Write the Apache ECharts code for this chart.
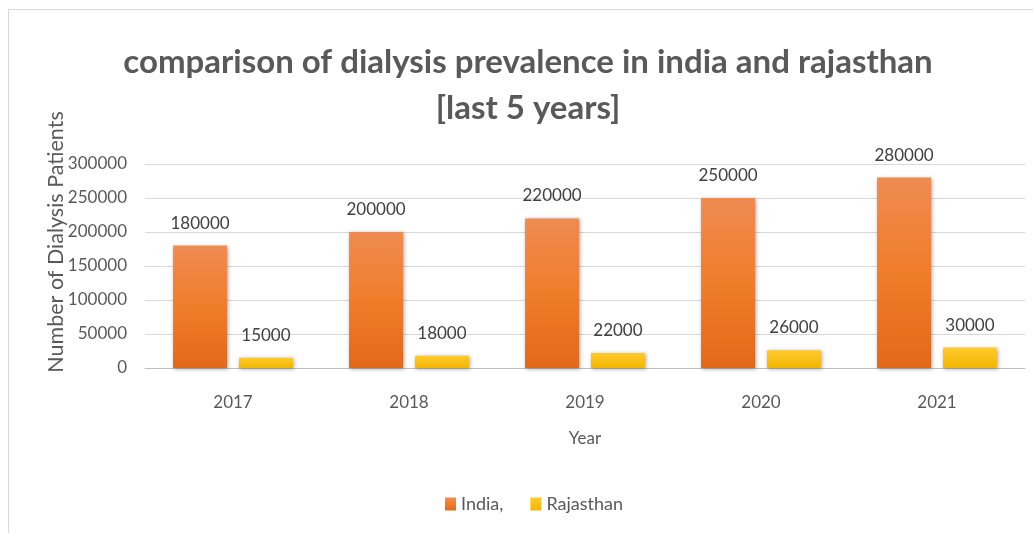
<!DOCTYPE html>
<html>
<head>
<meta charset="utf-8">
<script src="https://cdn.jsdelivr.net/npm/echarts@6/dist/echarts.min.js"></script>
<style>
html,body{margin:0;padding:0;background:#fff;overflow:hidden;}
#frame{position:absolute;left:8px;top:9px;width:1100px;height:600px;border-left:1px solid #d9d9d9;border-top:1px solid #d9d9d9;}
#chart{position:absolute;left:0;top:0;width:1033px;height:533px;}
</style>
</head>
<body>
<div id="frame"></div>
<div id="chart"></div>
<script>
const years = ['2017', '2018', '2019', '2020', '2021'];
const india = [180000, 200000, 220000, 250000, 280000];
const rajasthan = [15000, 18000, 22000, 26000, 30000];
const yTicks = [0, 50000, 100000, 150000, 200000, 250000, 300000];

const FONT = 'Lato';
const chart = echarts.init(document.getElementById('chart'), null, {renderer: 'canvas'});
const labelStyle = {show: true, position: 'top', distance: 14, color: '#404040', fontFamily: FONT, fontSize: 17};
chart.setOption({
  animation: false,
  title: {
    text: 'comparison of dialysis prevalence in india and rajasthan\n[last 5 years]',
    left: 523, top: 34,
    textAlign: 'center',
    textStyle: {fontFamily: FONT, fontWeight: 'bold', fontSize: 33, color: '#595959', lineHeight: 46}
  },
  legend: {
    bottom: 15, left: 440,
    itemWidth: 11, itemHeight: 13, itemGap: 27, icon: 'rect',
    textStyle: {fontFamily: FONT, fontSize: 18, color: '#595959'},
    data: ['India,', 'Rajasthan']
  },
  grid: {left: 145, right: 8, top: 164, bottom: 165, containLabel: false},
  xAxis: {
    type: 'category', data: years,
    name: 'Year', nameLocation: 'middle', nameGap: 62,
    nameTextStyle: {fontFamily: FONT, fontSize: 17, color: '#595959'},
    axisLine: {lineStyle: {color: '#bfbfbf', width: 1}},
    axisTick: {show: false},
    axisLabel: {margin: 26, fontFamily: FONT, fontSize: 17, color: '#595959'}
  },
  yAxis: {
    type: 'value', min: yTicks[0], max: yTicks[yTicks.length - 1], interval: 50000,
    name: 'Number of Dialysis Patients', nameLocation: 'middle', nameGap: 78,
    nameMoveOverlap: false,
    nameTextStyle: {fontFamily: FONT, fontSize: 21.5, color: '#595959', padding: [0, 0, 0, 48]},
    axisLine: {show: false}, axisTick: {show: false},
    axisLabel: {margin: 18, fontFamily: FONT, fontSize: 17, color: '#595959', formatter: v => String(v)},
    splitLine: {lineStyle: {color: '#d9d9d9', width: 1}}
  },
  series: [
    {
      name: 'India,', type: 'bar', data: india, barWidth: 54, barGap: '22%',
      itemStyle: {
        color: new echarts.graphic.LinearGradient(0, 0, 0, 1, [
          {offset: 0, color: '#EF8B52'}, {offset: 0.5, color: '#F07D2A'}, {offset: 1, color: '#E2691A'}
        ]),
        shadowBlur: 4, shadowColor: 'rgba(0,0,0,0.35)', shadowOffsetX: 1, shadowOffsetY: 1
      },
      label: labelStyle
    },
    {
      name: 'Rajasthan', type: 'bar', data: rajasthan, barWidth: 54,
      itemStyle: {
        color: new echarts.graphic.LinearGradient(0, 0, 0, 1, [
          {offset: 0, color: '#FFCA2E'}, {offset: 1, color: '#F2B600'}
        ]),
        shadowBlur: 4, shadowColor: 'rgba(0,0,0,0.35)', shadowOffsetX: 1, shadowOffsetY: 1
      },
      label: labelStyle
    }
  ],
  color: ['#EF7D2F', '#FFC000']
});
</script>
</body>
</html>
